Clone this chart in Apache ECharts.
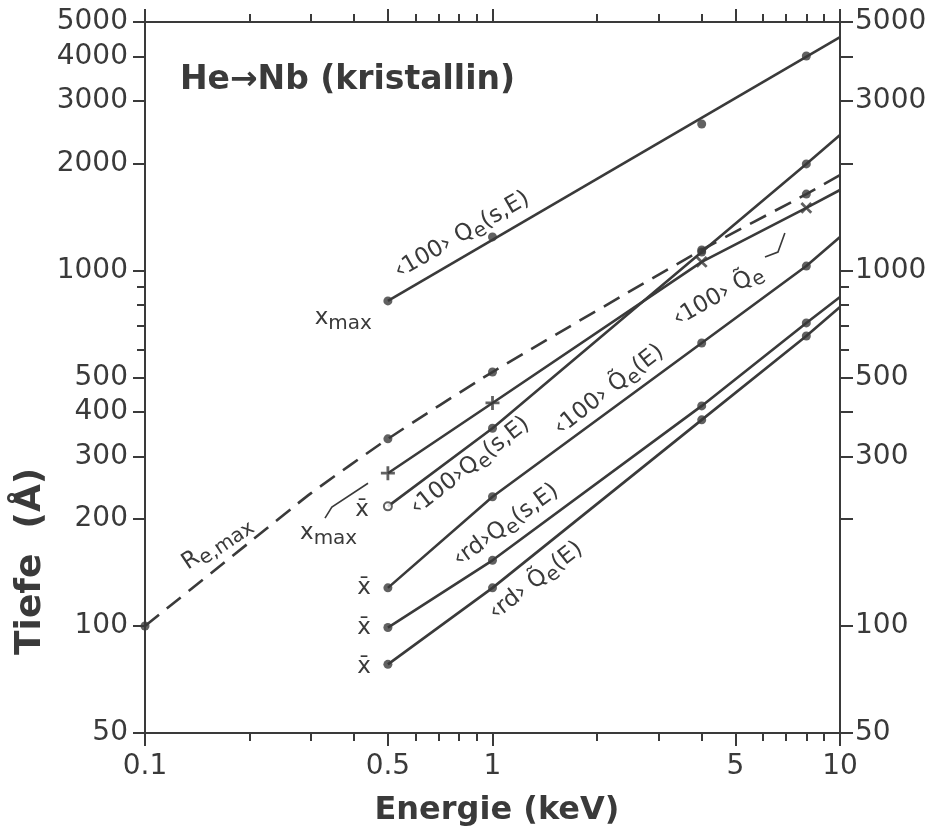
<!DOCTYPE html>
<html>
<head>
<meta charset="utf-8">
<script src="https://cdn.jsdelivr.net/npm/echarts@6/dist/echarts.min.js"></script>
<style>
html, body { margin: 0; padding: 0; background: #fff; }
#chart { width: 935px; height: 840px; }
</style>
</head>
<body>
<div id="chart"></div>
<script>
// Energie (keV) / Tiefe (Angstrom)
var energies = [0.5, 1, 4, 8];
var lineEnergies = [0.5, 1, 4, 8, 10];

// <100> Qe(s,E), x_max : fitted line + measured points
var q100sMaxLine = [[0.5, 821], [10, 4535]];
var q100sMaxPts = [821, 1243, 2582, 4012];
// <100> Q~e, x_max (crosses)
var q100tMax = [269, 424, 1057, 1500, 1684];
// <100> Qe(s,E), x-bar
var q100sMean = [217, 360, 1127, 1994, 2405];
// <100> Q~e(E), x-bar
var q100tMean = [128, 231, 625, 1029, 1243];
// <rd> Qe(s,E), x-bar
var rdsMean = [99, 153, 416, 712, 842];
// <rd> Q~e(E), x-bar
var rdtMean = [78, 128, 380, 654, 789];
// Re,max (dashed)
var reMaxE = [0.1, 0.2, 0.3, 0.5, 1, 4, 8, 10];
var reMax = [100, 172, 236, 336, 518, 1142, 1640, 1856];
var reMaxDotE = [0.1, 0.5, 1, 4, 8];
var reMaxDots = [100, 336, 518, 1142, 1640];

// ticks / labels
var xMajor = [0.1, 0.5, 1, 5, 10];
var xMinor = [0.2, 0.3, 0.4, 0.6, 0.7, 0.8, 0.9, 2, 3, 4, 6, 7, 8, 9];
var xLabels = [0.1, 0.5, 1, 5, 10];
var yMajor = [50, 100, 200, 300, 400, 500, 1000, 2000, 3000, 4000, 5000];
var yMinor = [600, 700, 800, 900];
var yLabelsLeft = [50, 100, 200, 300, 400, 500, 1000, 2000, 3000, 4000, 5000];
var yLabelsRight = [50, 100, 300, 500, 1000, 3000, 5000];

var ink = '#3a3a3a';
var font = 'DejaVu Sans';

function zip(xs, ys) {
  return xs.map(function (x, i) { return [x, ys[i]]; });
}

function fmt(v) { return String(+Number(v).toPrecision(6)); }

function xAx(pos, ticks, len, labels, line) {
  return {
    type: 'log', logBase: 10, min: 0.1, max: 10, position: pos, gridIndex: 0,
    axisLine: { show: line, lineStyle: { color: ink, width: 2 } },
    axisTick: { show: true, customValues: ticks, length: len, lineStyle: { color: ink, width: 2 } },
    axisLabel: labels ? {
      show: true, customValues: labels, formatter: fmt, margin: 20,
      fontFamily: font, fontSize: 28, color: ink
    } : { show: false },
    splitLine: { show: false }
  };
}

function yAx(pos, ticks, len, labels, line) {
  return {
    type: 'log', logBase: 10, min: 50, max: 5000, position: pos, gridIndex: 0,
    axisLine: { show: line, lineStyle: { color: ink, width: 2 } },
    axisTick: { show: true, customValues: ticks, length: len, lineStyle: { color: ink, width: 2 } },
    axisLabel: labels ? {
      show: true, customValues: labels, formatter: fmt, margin: pos == 'left' ? 17 : 15,
      fontFamily: font, fontSize: 28, color: ink
    } : { show: false },
    splitLine: { show: false }
  };
}

function lineS(data, dashed) {
  return {
    type: 'line', data: data, symbol: 'none', smooth: dashed ? 0.2 : false,
    lineStyle: { color: ink, width: 2.6, type: dashed ? [18, 10] : 'solid' },
    silent: true, z: 2, clip: false, animation: false
  };
}

function dotS(data) {
  return {
    type: 'scatter', data: data, symbol: 'circle', symbolSize: 9,
    itemStyle: { color: ink }, silent: true, z: 3, clip: false, animation: false
  };
}

var plusPath = 'path://M4,0H6V4H10V6H6V10H4V6H0V4H4Z';

var crossPts = zip(energies, q100tMax.slice(0, 4)).map(function (p, i) {
  return { value: p, symbolRotate: i < 2 ? 0 : 45 };
});
// first point of this curve is an open circle
var meanPts = zip(energies, q100sMean.slice(0, 4)).map(function (p, i) {
  return i == 0 ? { value: p, symbol: 'circle', symbolSize: 8,
    itemStyle: { color: '#fff', borderColor: ink, borderWidth: 2 } } : { value: p };
});

var series = [
  lineS(q100sMaxLine),
  dotS(zip(energies, q100sMaxPts)),
  lineS(zip(reMaxE, reMax), true),
  dotS(zip(reMaxDotE, reMaxDots)),
  lineS(zip(lineEnergies, q100tMax)),
  {
    type: 'scatter', data: crossPts, symbol: plusPath, symbolSize: 14,
    itemStyle: { color: ink }, silent: true, z: 3, clip: false, animation: false
  },
  lineS(zip(lineEnergies, q100sMean)),
  dotS(meanPts),
  lineS(zip(lineEnergies, q100tMean)),
  dotS(zip(energies, q100tMean.slice(0, 4))),
  lineS(zip(lineEnergies, rdsMean)),
  dotS(zip(energies, rdsMean.slice(0, 4))),
  lineS(zip(lineEnergies, rdtMean)),
  dotS(zip(energies, rdtMean.slice(0, 4)))
];

var chart = echarts.init(document.getElementById('chart'));
chart.setOption({
  backgroundColor: '#fff',
  animation: false,
  textStyle: { fontFamily: font },
  grid: { left: 145, right: 95, top: 22, bottom: 107, containLabel: false, outerBoundsMode: 'none' },
  xAxis: [
    xAx('bottom', xMajor, 13, xLabels, true),
    xAx('bottom', xMinor, 8, null, false),
    xAx('top', xMajor, 13, null, true),
    xAx('top', xMinor, 8, null, false)
  ],
  yAxis: [
    yAx('left', yMajor, 12, yLabelsLeft, true),
    yAx('left', yMinor, 8, null, false),
    yAx('right', yMajor, 13, yLabelsRight, true),
    yAx('right', yMinor, 9, null, false)
  ],
  series: series
});

// annotations, anchored in data coordinates [E, Tiefe]
var notes = [
  { t: 'He\u2192Nb (kristallin)', at: [0.126, 3430], rot: 0, size: 33, bold: true, align: 'left' },
  { t: '\u2039100\u203a Q{s|e}(s,E)', at: [0.817, 1258], rot: 30, size: 23 },
  { t: 'x{s|max}', at: [0.4497, 735], rot: 0, size: 23, align: 'right' },
  { t: 'x{s|max}', at: [0.408, 183], rot: 0, size: 23, align: 'right' },
  { t: 'x\u0304', at: [0.4211, 212], rot: 0, size: 23 },
  { t: 'x\u0304', at: [0.427, 128], rot: 0, size: 23 },
  { t: 'x\u0304', at: [0.427, 99], rot: 0, size: 23 },
  { t: 'x\u0304', at: [0.427, 76.7], rot: 0, size: 23 },
  { t: '\u2039100\u203a Q\u0303{s|e}', at: [4.457, 848], rot: 30, size: 23 },
  { t: '\u2039100\u203aQ{s|e}(s,E)', at: [0.862, 282], rot: 38, size: 23 },
  { t: '\u2039100\u203a Q\u0303{s|e}(E)', at: [2.164, 461], rot: 38, size: 23 },
  { t: '\u2039rd\u203aQ{s|e}(s,E)', at: [1.094, 192], rot: 36, size: 23 },
  { t: '\u2039rd\u203a Q\u0303{s|e}(E)', at: [1.334, 134], rot: 38, size: 23 },
  { t: 'R{s|e,max}', at: [0.161, 171], rot: 34, size: 23 },
  { t: 'Energie (keV)', at: [1.03, 30.2], rot: 0, size: 32, bold: true },
  { t: 'Tiefe  (\u00c5)', at: [0.047, 152], rot: 90, size: 36, bold: true }
];
var leaders = [
  [[0.3296, 201], [0.3449, 216], [0.4383, 252]],
  [[6.083, 1091], [6.63, 1127], [6.94, 1275]]
];

function toPx(p) {
  return chart.convertToPixel({ xAxisIndex: 0, yAxisIndex: 0 }, p);
}

var graphics = notes.map(function (n) {
  var p = toPx(n.at);
  var w = n.bold ? 'bold' : 'normal';
  return {
    type: 'text', x: p[0], y: p[1], rotation: n.rot * Math.PI / 180, z: 10,
    style: {
      text: n.t, fill: ink, fontFamily: font, fontSize: n.size, fontWeight: w,
      align: n.align || 'center', verticalAlign: 'middle',
      textAlign: n.align || 'center', textVerticalAlign: 'middle',
      rich: {
        s: { fontFamily: font, fontSize: n.size - 3, fontWeight: w, fill: ink, padding: [12, 0, 0, 0] }
      }
    }
  };
});
leaders.forEach(function (l) {
  graphics.push({
    type: 'polyline', z: 10, silent: true,
    shape: { points: l.map(toPx) },
    style: { stroke: ink, lineWidth: 1.6, fill: null }
  });
});
chart.setOption({ graphic: graphics });
</script>
</body>
</html>
